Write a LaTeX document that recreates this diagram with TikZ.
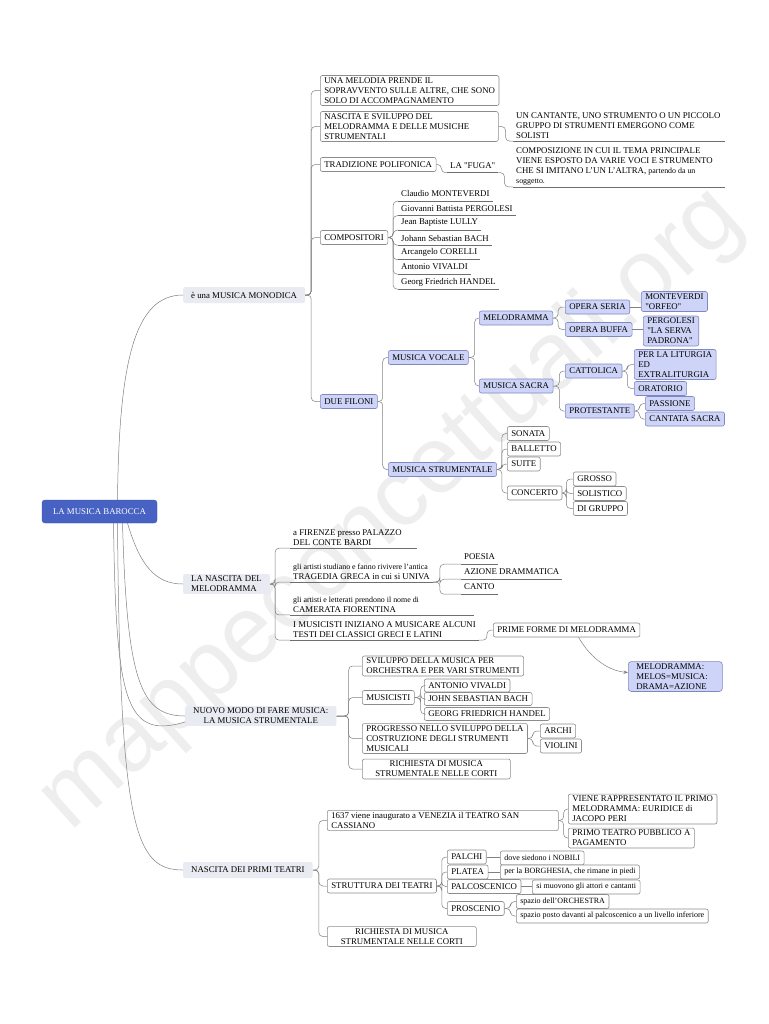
\documentclass[tikz,border=0pt]{standalone}
\usepackage{fontspec}
\setmainfont{Liberation Serif}
\setsansfont{Liberation Sans}
\usetikzlibrary{arrows.meta}
\definecolor{rootc}{HTML}{4762C3}
\definecolor{rootd}{HTML}{3A52A8}
\definecolor{bluef}{HTML}{CDD4F7}
\definecolor{blued}{HTML}{8088C2}
\definecolor{boxd}{HTML}{8C8C8C}
\definecolor{lonef}{HTML}{E9EBF2}
\definecolor{conc}{HTML}{808080}
\definecolor{ulc}{HTML}{6E6E6E}
\definecolor{wmark}{HTML}{EEEEEE}
\tikzset{
 base/.style={font=\fontsize{8.8}{10}\selectfont, inner xsep=4pt, inner ysep=2pt, minimum height=14pt, anchor=west, align=left, rounded corners=2pt},
 wb/.style={base, draw=boxd, fill=white, line width=0.6pt},
 bb/.style={base, draw=blued, fill=bluef, line width=0.6pt},
 ul/.style={base, inner xsep=3pt, rounded corners=0pt},
 lone/.style={base, fill=lonef, inner xsep=8pt, minimum height=16pt},
 rootbox/.style={font=\fontsize{8.8}{10}\selectfont, text=white, fill=rootc, draw=rootd, rounded corners=3pt, minimum width=115pt, minimum height=23pt},
 con/.style={draw=conc, line width=0.5pt, rounded corners=4pt},
 brk/.style={to path={-- ++(#1,0) |- (\tikztotarget)}},
 brk/.default=6,
 uln/.style={draw=ulc, line width=0.7pt},
 sm/.style={font=\fontsize{8}{9.5}\selectfont},
}
\newcommand{\smf}{\fontsize{7.9}{10}\selectfont}
\newcommand{\qd}{\textquotedbl}
\newcommand{\fw}[2]{\makebox[#1][l]{#2}}
\begin{document}
\begin{tikzpicture}[x=1pt,y=-1pt]
\useasboundingbox (0,0) rectangle (768,1024);
\fill[white] (0,0) rectangle (768,1024);
% watermark
\node[rotate=42, text=wmark, font=\fontsize{95}{95}\selectfont\sffamily] (wm) at (392,510) {mappeconcettuali.org};

% root and level 1
\node[rootbox] (root) at (99.5,511.5) {LA MUSICA BAROCCA};
\node[lone] (mono) at (183,295) {è una MUSICA MONODICA};
\node[lone] (nasc) at (183,584) {LA NASCITA DEL\\MELODRAMMA};
\node[lone, align=center] (nuovo) at (185,716) {NUOVO MODO DI FARE MUSICA:\\LA MUSICA STRUMENTALE};
\node[lone] (teatri) at (183,870) {NASCITA DEI PRIMI TEATRI};

% musica monodica
\node[wb] (m1) at (320,90.5) {\fw{170pt}{UNA MELODIA PRENDE IL}\\SOPRAVVENTO SULLE ALTRE, CHE SONO\\SOLO DI ACCOMPAGNAMENTO};
\node[wb] (m2) at (320,126.5) {\fw{170pt}{NASCITA E SVILUPPO DEL}\\MELODRAMMA E DELLE MUSICHE\\STRUMENTALI};
\node[ul] (m2a) at (513,126) {\fw{206pt}{UN CANTANTE, UNO STRUMENTO O UN PICCOLO}\\GRUPPO DI STRUMENTI EMERGONO COME\\SOLISTI};
\node[wb] (m3) at (320,164.5) {TRADIZIONE POLIFONICA};
\node[ul] (fuga) at (447,165.5) {LA \qd FUGA\qd};
\node[ul] (comp) at (513,166) {\fw{206pt}{COMPOSIZIONE IN CUI IL TEMA PRINCIPALE}\\VIENE ESPOSTO DA VARIE VOCI E STRUMENTO\\CHE SI IMITANO L'UN L'ALTRA, {\smf partendo da un}\\{\smf soggetto.}};
\node[wb] (m4) at (320,237.5) {COMPOSITORI};
\node[ul] (c1) at (398,194) {Claudio MONTEVERDI};
\node[ul] (c2) at (398,208.5) {Giovanni Battista PERGOLESI};
\node[ul] (c3) at (398,223) {Jean Baptiste LULLY};
\node[ul] (c4) at (398,238) {Johann Sebastian BACH};
\node[ul] (c5) at (398,252.5) {Arcangelo CORELLI};
\node[ul] (c6) at (398,267) {Antonio VIVALDI};
\node[ul] (c7) at (398,282) {Georg Friedrich HANDEL};
\node[bb] (m5) at (320,401.5) {DUE FILONI};
\node[bb] (mv) at (388,357.5) {MUSICA VOCALE};
\node[bb] (mel) at (479,318) {MELODRAMMA};
\node[bb] (os) at (565,307) {OPERA SERIA};
\node[bb] (osx) at (641,301.5) {MONTEVERDI\\\qd ORFEO\qd};
\node[bb] (ob) at (565,329.5) {OPERA BUFFA};
\node[bb] (obx) at (643,331) {PERGOLESI\\\qd LA SERVA\\PADRONA\qd};
\node[bb] (ms) at (479,386) {MUSICA SACRA};
\node[bb] (cat) at (565,371) {CATTOLICA};
\node[bb] (cat1) at (634,364.5) {PER LA LITURGIA\\ED\\EXTRALITURGIA};
\node[bb] (cat2) at (634,388.5) {ORATORIO};
\node[bb] (pro) at (565,411) {PROTESTANTE};
\node[bb] (pro1) at (645,403.5) {PASSIONE};
\node[bb] (pro2) at (645,419) {CANTATA SACRA};
\node[bb] (mst) at (388,469.5) {MUSICA STRUMENTALE};
\node[wb] (s1) at (507,433.5) {SONATA};
\node[wb] (s2) at (507,449) {BALLETTO};
\node[wb] (s3) at (507,464) {SUITE};
\node[wb] (s4) at (507,493) {CONCERTO};
\node[wb] (g1) at (573,479) {GROSSO};
\node[wb] (g2) at (573,493.5) {SOLISTICO};
\node[wb] (g3) at (573,508.5) {DI GRUPPO};

% nascita del melodramma
\node[ul] (n1) at (290,538) {\fw{121pt}{a FIRENZE presso PALAZZO}\\DEL CONTE BARDI};
\node[ul] (n2) at (290,572) {{\smf gli artisti studiano e fanno rivivere l'antica}\\TRAGEDIA GRECA in cui si UNIVA};
\node[ul] (p1) at (461,557) {POESIA};
\node[ul] (p2) at (461,572) {AZIONE DRAMMATICA};
\node[ul] (p3) at (461,587) {CANTO};
\node[ul] (n3) at (290,605) {\fw{178pt}{\smf gli artisti e letterati prendono il nome di}\\CAMERATA FIORENTINA};
\node[ul] (n4) at (290,630) {I MUSICISTI INIZIANO A MUSICARE ALCUNI\\TESTI DEI CLASSICI GRECI E LATINI};
\node[wb] (prime) at (493,630) {PRIME FORME DI MELODRAMMA};
\node[bb, inner xsep=8pt, rounded corners=3pt] (melos) at (628,676.5) {\fw{78pt}{MELODRAMMA:}\\MELOS=MUSICA:\\DRAMA=AZIONE};

% nuovo modo
\node[wb] (v1) at (362,666) {SVILUPPO DELLA MUSICA PER\\ORCHESTRA E PER VARI STRUMENTI};
\node[wb] (v2) at (362,697.5) {MUSICISTI};
\node[wb, minimum height=13pt] (v2a) at (424,685.5) {ANTONIO VIVALDI};
\node[wb, minimum height=13pt] (v2b) at (424,699) {JOHN SEBASTIAN BACH};
\node[wb, minimum height=13pt] (v2c) at (424,714) {GEORG FRIEDRICH HANDEL};
\node[wb] (v3) at (362,738.5) {PROGRESSO NELLO SVILUPPO DELLA\\COSTRUZIONE DEGLI STRUMENTI\\MUSICALI};
\node[wb] (ar) at (540,731) {ARCHI};
\node[wb] (vi) at (540,746) {VIOLINI};
\node[wb, align=center, minimum width=148pt] (v4) at (362,769) {RICHIESTA DI MUSICA\\STRUMENTALE NELLE CORTI};

% primi teatri
\node[wb] (t1) at (327,820.5) {\fw{223pt}{1637 viene inaugurato a VENEZIA il TEATRO SAN}\\CASSIANO};
\node[wb] (t1a) at (568,809) {VIENE RAPPRESENTATO IL PRIMO\\MELODRAMMA: EURIDICE di\\JACOPO PERI};
\node[wb] (t1b) at (568,838) {PRIMO TEATRO PUBBLICO A\\PAGAMENTO};
\node[wb] (t2) at (327,886) {STRUTTURA DEI TEATRI};
\node[wb] (pa) at (447,857) {PALCHI};
\node[wb, sm] (pad) at (500,858) {dove siedono i NOBILI};
\node[wb] (pl) at (447,872) {PLATEA};
\node[wb, sm] (pld) at (500,872) {per la BORGHESIA, che rimane in piedi};
\node[wb] (pc) at (447,886.5) {PALCOSCENICO};
\node[wb, sm] (pcd) at (532,887) {si muovono gli attori e cantanti};
\node[wb] (pr) at (447,908.5) {PROSCENIO};
\node[wb, sm] (pr1) at (516,901.5) {spazio dell'ORCHESTRA};
\node[wb, sm] (pr2) at (516,916) {spazio posto davanti al palcoscenico a un livello inferiore};
\node[wb, align=center, minimum width=149pt] (t3) at (327,936.5) {RICHIESTA DI MUSICA\\STRUMENTALE NELLE CORTI};

% underlines
\foreach \n in {m2a,fuga,comp,c1,c2,c3,c4,c5,c6,c7,n1,n2,n3,n4,p1,p2,p3}
  \draw[uln] (\n.south west) -- (\n.south east);

% root connectors
\draw[con] ([xshift=18pt]root.north) .. controls (119,360) and (135,295) .. (mono.west);
\draw[con] ([xshift=28pt]root.south) .. controls (140,565) and (155,584) .. (nasc.west);
\draw[con] ([xshift=23pt]root.south) .. controls (127,680) and (140,716) .. (nuovo.west);
\draw[con] ([xshift=18pt]root.south) .. controls (120,830) and (135,870) .. (teatri.west);
\draw[con] ([xshift=14pt]root.south) .. controls (116,700) and (125,740) .. ([yshift=-6pt]nuovo.west);

% monodica
\foreach \c in {m1,m2,m3,m4,m5} \draw[con] (mono.east) to[brk=6] (\c.west);
\draw[con] (m2.east) to[brk=7] (m2a.south west);
\draw[con] (m3.east) to[brk=5] (fuga.south west);
\draw[con] (fuga.south east) to[brk=6] (comp.south west);
\foreach \c in {c1,c2,c3,c4,c5,c6,c7} \draw[con] (m4.east) to[brk=5] (\c.south west);
\foreach \c in {mv,mst} \draw[con] (m5.east) to[brk=5] (\c.west);
\foreach \c in {mel,ms} \draw[con] (mv.east) to[brk=6] (\c.west);
\foreach \c in {os,ob} \draw[con] (mel.east) to[brk=5] (\c.west);
\draw[con] (os.east) -- (osx.west |- os.east);
\draw[con] (ob.east) -- (obx.west |- ob.east);
\foreach \c in {cat,pro} \draw[con] (ms.east) to[brk=6] (\c.west);
\foreach \c in {cat1,cat2} \draw[con] (cat.east) to[brk=5] (\c.west);
\foreach \c in {pro1,pro2} \draw[con] (pro.east) to[brk=5] (\c.west);
\foreach \c in {s1,s2,s3,s4} \draw[con] (mst.east) to[brk=5] (\c.west);
\foreach \c in {g1,g2,g3} \draw[con] (s4.east) to[brk=4] (\c.west);

% nascita del melodramma
\foreach \c in {n1,n2,n3,n4} \draw[con] (nasc.east) to[brk=5] (\c.south west);
\foreach \c in {p1,p2,p3} \draw[con] (n2.south east) to[brk=7] (\c.south west);
\draw[con] (n4.south east) to[brk=8] (prime.west);
\draw[con, -{Stealth[length=4.5pt,width=3.5pt]}] ([xshift=12pt]prime.south) .. controls +(10,18) and +(-22,-2) .. ([yshift=4pt]melos.west);

% nuovo modo
\foreach \c in {v1,v2,v3,v4} \draw[con] (nuovo.east) to[brk=12] (\c.west);
\foreach \c in {v2a,v2b,v2c} \draw[con] (v2.east) to[brk=6] (\c.west);
\foreach \c in {ar,vi} \draw[con] (v3.east) to[brk=5] (\c.west);

% primi teatri
\foreach \c in {t1,t2,t3} \draw[con] (teatri.east) to[brk=6] (\c.west);
\foreach \c in {t1a,t1b} \draw[con] (t1.east) to[brk=5] (\c.west);
\foreach \c in {pa,pl,pc,pr} \draw[con] (t2.east) to[brk=5] (\c.west);
\draw[con] (pa.east) -- (pad.west |- pa.east);
\draw[con] (pl.east) -- (pld.west |- pl.east);
\draw[con] (pc.east) -- (pcd.west |- pc.east);
\foreach \c in {pr1,pr2} \draw[con] (pr.east) to[brk=6] (\c.west);
\end{tikzpicture}
\end{document}
